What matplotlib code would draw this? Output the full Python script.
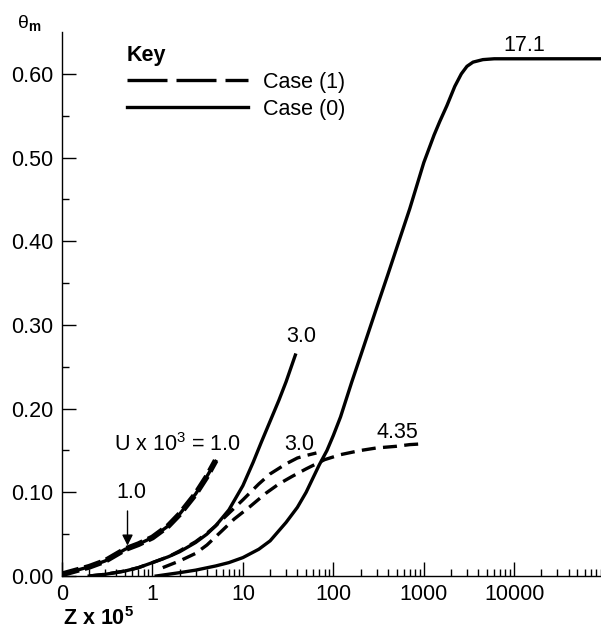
import numpy as np
import matplotlib
matplotlib.use('Agg')
import matplotlib.pyplot as plt
from matplotlib.lines import Line2D
from matplotlib.ticker import FixedLocator, FixedFormatter, LogLocator, NullFormatter, FormatStrFormatter

plt.rcParams['font.family'] = ['Liberation Sans', 'DejaVu Sans']
plt.rcParams['mathtext.fontset'] = 'custom'
plt.rcParams['mathtext.rm'] = 'Liberation Sans'
plt.rcParams['mathtext.it'] = 'Liberation Sans:italic'
plt.rcParams['mathtext.bf'] = 'Liberation Sans:bold'

# U x 10^3 = 1.0 (both cases nearly coincide)
z_u1 = [0.1, 0.2, 0.3, 0.5, 0.7, 1.0, 1.5, 2.0, 3.0, 4.0, 5.0]
th_u1_case0 = [0.002, 0.011, 0.018, 0.032, 0.038, 0.046, 0.060, 0.074, 0.098, 0.119, 0.137]
th_u1_case1 = [0.002, 0.011, 0.018, 0.032, 0.038, 0.046, 0.060, 0.074, 0.098, 0.119, 0.138]

# U x 10^3 = 3.0
z_u3_case0 = [0.2, 0.3, 0.5, 0.7, 1, 1.5, 2, 3, 4, 5, 7, 10, 13, 16, 20, 25, 30, 38]
th_u3_case0 = [0.0, 0.002, 0.006, 0.010, 0.016, 0.023, 0.029, 0.040, 0.050, 0.060, 0.079,
               0.108, 0.136, 0.160, 0.185, 0.210, 0.232, 0.264]
z_u3_case1 = [0.2, 0.3, 0.5, 0.7, 1, 1.5, 2, 3, 4, 5, 7, 10, 15, 20, 30, 40, 50, 65]
th_u3_case1 = [0.0, 0.002, 0.006, 0.010, 0.016, 0.023, 0.030, 0.041, 0.051, 0.060, 0.075,
               0.091, 0.110, 0.122, 0.134, 0.141, 0.144, 0.147]

# U x 10^3 = 4.35, case (1)
z_u435 = [1.3, 2, 3, 4, 6, 8, 12, 18, 25, 35, 50, 80, 120, 200, 300, 500, 700, 1000]
th_u435 = [0.010, 0.018, 0.027, 0.037, 0.055, 0.068, 0.083, 0.099, 0.110, 0.119, 0.128,
           0.139, 0.145, 0.150, 0.153, 0.155, 0.157, 0.158]

# U x 10^3 = 17.1, case (0)
z_u171 = [1.1, 2, 3, 5, 7, 10, 15, 20, 30, 40, 50, 70, 85, 100, 120, 160, 200, 300, 400,
          550, 700, 1000, 1300, 1500, 1800, 2200, 2600, 3000, 3500, 4500, 6000, 10000, 100000]
th_u171 = [0.0, 0.004, 0.007, 0.012, 0.016, 0.022, 0.032, 0.042, 0.064, 0.082, 0.100, 0.133,
           0.150, 0.168, 0.190, 0.232, 0.263, 0.320, 0.360, 0.405, 0.439, 0.494, 0.527, 0.543,
           0.562, 0.585, 0.600, 0.609, 0.614, 0.617, 0.618, 0.618, 0.618]

x_ticks = [0.1, 1, 10, 100, 1000, 10000]
x_tick_labels = ['0', '1', '10', '100', '1000', '10000']

fig = plt.figure(figsize=(6.01, 6.33), dpi=100)
ax = fig.add_axes([62 / 601, 57 / 633, 539 / 601, 544 / 633])

lw = 2.4
dash = (4.2, 2.2)
fs = 15.5

ax.plot(z_u1, th_u1_case0, color='k', lw=lw)
ax.plot(z_u1, th_u1_case1, color='k', lw=4.2, dashes=(3.0, 1.0))
ax.plot(z_u3_case0, th_u3_case0, color='k', lw=lw)
ax.plot(z_u3_case1, th_u3_case1, color='k', lw=lw, dashes=dash)
ax.plot(z_u435, th_u435, color='k', lw=lw, dashes=dash)
ax.plot(z_u171, th_u171, color='k', lw=lw)

ax.set_xscale('log')
ax.set_xlim(0.1, 9.1e4)
ax.set_ylim(0, 0.65)

ax.xaxis.set_major_locator(FixedLocator(x_ticks))
ax.xaxis.set_major_formatter(FixedFormatter(x_tick_labels))
ax.xaxis.set_minor_locator(LogLocator(base=10, subs=np.arange(2, 10)))
ax.xaxis.set_minor_formatter(NullFormatter())
ax.yaxis.set_major_locator(FixedLocator(np.arange(0, 0.61, 0.1)))
ax.yaxis.set_minor_locator(FixedLocator(np.arange(0.05, 0.6, 0.1)))
ax.yaxis.set_major_formatter(FormatStrFormatter('%.2f'))

ax.spines['top'].set_visible(False)
ax.spines['right'].set_visible(False)
for s in ['left', 'bottom']:
    ax.spines[s].set_linewidth(1.0)
ax.tick_params(which='both', direction='in', top=False, right=False, labelsize=fs, width=1.0)
ax.tick_params(which='major', length=10, pad=6)
ax.tick_params(which='minor', length=5)

# curve labels
ax.text(12800, 0.634, '17.1', fontsize=fs, ha='center', va='center')
ax.text(44.7, 0.286, '3.0', fontsize=fs, ha='center', va='center')
ax.text(42.4, 0.157, '3.0', fontsize=fs, ha='center', va='center')
ax.text(505, 0.171, '4.35', fontsize=fs, ha='center', va='center')
ax.text(1.9, 0.157, 'U x 10$^3$ = 1.0', fontsize=fs, ha='center', va='center')
ax.text(0.585, 0.100, '1.0', fontsize=fs, ha='center', va='center')
ax.annotate('', xy=(0.53, 0.033), xytext=(0.53, 0.081),
            arrowprops=dict(arrowstyle='-|>', color='k', lw=1.0, mutation_scale=16))

# key
handles = [Line2D([], [], color='k', lw=lw, dashes=(12, 2.7)),
           Line2D([], [], color='k', lw=lw)]
leg = ax.legend(handles, ['Case (1)', 'Case (0)'], loc='upper left',
                bbox_to_anchor=(0.1206, 0.977), frameon=False, fontsize=fs,
                handlelength=5.6, handletextpad=0.7, borderpad=0, labelspacing=0.28,
                title='Key', title_fontproperties={'weight': 'bold', 'size': fs},
                alignment='left', borderaxespad=0)

# axis labels
fig.text(17 / 601, 1 - 28 / 633, 'θ$_\\mathbf{m}$', fontsize=14, ha='left', va='baseline')
fig.text(63 / 601, 1 - 625 / 633, 'Z x 10$^\\mathbf{5}$', fontsize=fs, fontweight='bold',
         ha='left', va='baseline')

fig.savefig('out.png', dpi=100)
